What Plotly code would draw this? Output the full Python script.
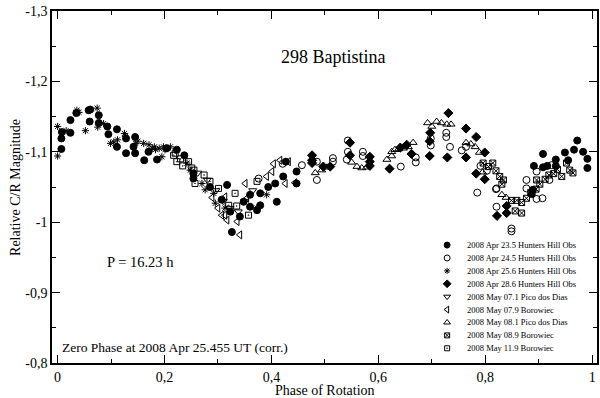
import plotly.graph_objects as go

# phase / relative magnitude per observing night
apr23_phase = [0.008, 0.007, 0.007, 0.024, 0.024, 0.035, 0.058, 0.061, 0.060, 0.077, 0.077,
               0.093, 0.095, 0.111, 0.111, 0.128, 0.128, 0.145, 0.142, 0.145, 0.162, 0.170,
               0.186, 0.204, 0.223, 0.237, 0.254, 0.254, 0.285, 0.307, 0.323, 0.341,
               0.317, 0.348, 0.360, 0.360, 0.373, 0.379, 0.379, 0.394, 0.410, 0.407, 0.326,
               0.427, 0.422, 0.447, 0.447,
               0.891, 0.908, 0.908, 0.916, 0.932, 0.932, 0.949, 0.955, 0.966, 0.972, 0.983,
               0.991, 0.991, 0.889, 0.887]
apr23_mag = [-1.128, -1.119, -1.104, -1.145, -1.127, -1.155, -1.159, -1.160, -1.143, -1.152, -1.141,
             -1.136, -1.125, -1.132, -1.107, -1.119, -1.098, -1.121, -1.107, -1.098, -1.088, -1.100,
             -1.089, -1.105, -1.103, -1.095, -1.069, -1.062, -1.050, -1.032, -1.015, -1.008,
             -1.053, -1.029, -1.022, -1.039, -1.017, -1.041, -1.024, -1.050, -1.029, -1.055, -0.986,
             -1.086, -1.065, -1.072, -1.055,
             -1.080, -1.097, -1.078, -1.080, -1.089, -1.080, -1.099, -1.088, -1.103, -1.116, -1.100,
             -1.090, -1.077, -1.046, -1.040]

apr24_phase = [0.376, 0.421, 0.457, 0.485, 0.485, 0.515, 0.515, 0.543, 0.543, 0.541, 0.571, 0.571,
               0.642, 0.670, 0.670, 0.698, 0.698, 0.727, 0.727, 0.734, 0.756, 0.764, 0.791, 0.803,
               0.785, 0.820, 0.821, 0.821, 0.849, 0.849, 0.877, 0.877, 0.896, 0.896, 0.907,
               0.920, 0.924]
apr24_mag = [-1.062, -1.083, -1.081, -1.086, -1.060, -1.091, -1.086, -1.116, -1.100, -1.089, -1.100, -1.094,
             -1.079, -1.092, -1.085, -1.119, -1.109, -1.127, -1.121, -1.107, -1.102, -1.107, -1.080, -1.073,
             -1.042, -1.047, -1.022, -1.048, -0.991, -0.987, -1.060, -1.048, -1.072, -1.033, -1.034,
             -1.060, -1.081]

apr25_phase = [0.000, 0.000, 0.016, 0.036, 0.040, 0.052, 0.074, 0.075, 0.086, 0.099, 0.105, 0.112,
               0.125, 0.127, 0.146, 0.150, 0.161, 0.171, 0.177, 0.181, 0.183, 0.190, 0.195, 0.198,
               0.201, 0.211, 0.242, 0.248, 0.270, 0.276, 0.292, 0.295, 0.313, 0.373, 0.391]
apr25_mag = [-1.136, -1.094, -1.130, -1.159, -1.156, -1.130, -1.162, -1.135, -1.140, -1.112, -1.114, -1.117,
             -1.126, -1.122, -1.112, -1.115, -1.112, -1.110, -1.105, -1.107, -1.103, -1.105, -1.093, -1.107,
             -1.103, -1.107, -1.084, -1.074, -1.055, -1.046, -1.041, -1.027, -1.020, -1.020, -1.039]

apr28_phase = [0.476, 0.476, 0.476, 0.497, 0.510, 0.547, 0.547, 0.584, 0.584, 0.584, 0.621, 0.641,
               0.653, 0.662, 0.697, 0.696, 0.696, 0.731, 0.729, 0.764, 0.764, 0.783, 0.799, 0.783,
               0.799, 0.822, 0.840, 0.840]
apr28_mag = [-1.095, -1.088, -1.084, -1.079, -1.079, -1.113, -1.095, -1.093, -1.086, -1.080, -1.076, -1.106,
             -1.110, -1.097, -1.127, -1.115, -1.094, -1.155, -1.092, -1.133, -1.092, -1.121, -1.099, -1.069,
             -1.061, -1.009, -1.023, -1.013]

may07a_phase = [0.262, 0.280, 0.296, 0.310, 0.322, 0.338, 0.350, 0.365]
may07a_mag = [-1.070, -1.060, -1.045, -1.030, -1.020, -1.015, -1.030, -1.045]

may07b_phase = [0.289, 0.307, 0.317, 0.341, 0.351, 0.354, 0.391, 0.401, 0.404, 0.416, 0.432, 0.426,
                0.444, 0.300, 0.313, 0.336, 0.313]
may07b_mag = [-1.035, -1.010, -1.003, -0.982, -1.055, -1.034, -1.065, -1.072, -1.083, -1.088, -1.086, -1.055,
              -1.056, -1.020, -1.010, -1.001, -1.036]

may08a_phase = [0.482, 0.494, 0.504, 0.550, 0.560, 0.569, 0.578, 0.616, 0.625, 0.625, 0.631, 0.638,
                0.647, 0.656, 0.665, 0.692, 0.700, 0.709, 0.718, 0.728, 0.736, 0.764, 0.773, 0.781,
                0.789, 0.831, 0.839, 0.795]
may08a_mag = [-1.070, -1.074, -1.078, -1.085, -1.079, -1.077, -1.078, -1.089, -1.094, -1.100, -1.103, -1.104,
              -1.105, -1.107, -1.113, -1.141, -1.136, -1.143, -1.141, -1.139, -1.139, -1.113, -1.111, -1.107,
              -1.099, -1.039, -1.035, -1.071]

may08b_phase = [0.796, 0.806, 0.814, 0.820, 0.827, 0.834, 0.831, 0.849, 0.859, 0.868, 0.856, 0.868,
                0.877, 0.885, 0.895, 0.896, 0.902, 0.912, 0.919, 0.928, 0.935, 0.943, 0.952, 0.958, 0.964]
may08b_mag = [-1.084, -1.079, -1.084, -1.073, -1.065, -1.060, -1.054, -1.031, -1.031, -1.028, -1.016, -1.013,
              -1.034, -1.042, -1.047, -1.060, -1.054, -1.061, -1.067, -1.069, -1.075, -1.065, -1.084, -1.074, -1.070]

may11_phase = [0.217, 0.220, 0.223, 0.234, 0.245, 0.251, 0.255, 0.257, 0.274, 0.285, 0.301, 0.320,
               0.335, 0.332, 0.357, 0.373, 0.230]
may11_mag = [-1.095, -1.098, -1.086, -1.080, -1.086, -1.077, -1.074, -1.055, -1.067, -1.058, -1.048, -1.024,
             -1.023, -1.041, -1.010, -1.058, -1.090]

names = ["2008 Apr 23.5 Hunters Hill Obs", "2008 Apr 24.5 Hunters Hill Obs",
         "2008 Apr 25.6 Hunters Hill Obs", "2008 Apr 28.6 Hunters Hill Obs",
         "2008 May 07.1 Pico dos Dias", "2008 May 07.9 Borowiec",
         "2008 May 08.1 Pico dos Dias", "2008 May 08.9 Borowiec", "2008 May 11.9 Borowiec"]

x_ticks = [0, 0.2, 0.4, 0.6, 0.8, 1.0]
x_ticktext = ["0", "0,2", "0,4", "0,6", "0,8", "1"]
y_ticks = [-1.3, -1.2, -1.1, -1.0, -0.9, -0.8]
y_ticktext = ["-1,3", "-1,2", "-1,1", "-1", "-0,9", "-0,8"]

FONT = "Liberation Serif, Times New Roman, serif"

series = [
    (names[0], apr23_phase, apr23_mag, "circle", 7),
    (names[1], apr24_phase, apr24_mag, "circle-open", 7),
    (names[2], apr25_phase, apr25_mag, "asterisk-open", 6),
    (names[3], apr28_phase, apr28_mag, "diamond", 7),
    (names[4], may07a_phase, may07a_mag, "triangle-down-open", 7),
    (names[5], may07b_phase, may07b_mag, "triangle-left-open", 7),
    (names[6], may08a_phase, may08a_mag, "triangle-up-open", 7),
    (names[7], may08b_phase, may08b_mag, "square-x-open", 6),
    (names[8], may11_phase, may11_mag, "square-open-dot", 6),
]

fig = go.Figure()
for name, xs, ys, sym, size in series:
    fig.add_trace(go.Scatter(
        x=xs, y=ys, mode="markers", name=name, showlegend=False,
        marker=dict(symbol=sym, size=size, color="black",
                    line=dict(color="black", width=1)),
    ))

# hand-made legend (tighter rows than plotly's own legend allows)
row_top, row_gap = 0.335, 12.9 / 352
for i, (name, _, _, sym, size) in enumerate(series):
    yk = row_top - i * row_gap
    fig.add_trace(go.Scatter(
        x=[0.725], y=[yk], xaxis="x2", yaxis="y2", mode="markers", showlegend=False,
        hoverinfo="skip",
        marker=dict(symbol=sym, size=size - 1, color="black", line=dict(color="black", width=1)),
    ))
    fig.add_annotation(text=name, x=0.757, y=yk, xref="paper", yref="paper",
                       xanchor="left", yanchor="middle", showarrow=False,
                       font=dict(size=8.5, family=FONT, color="black"))

axis_common = dict(showline=True, linecolor="black", linewidth=1.5, mirror="ticks",
                   ticks="inside", ticklen=8, tickwidth=1, tickcolor="black",
                   showgrid=False, zeroline=False, automargin=False,
                   tickfont=dict(size=14, family=FONT, color="black"))

fig.update_layout(
    width=600, height=398,
    margin=dict(l=52, r=3, t=11, b=35),
    paper_bgcolor="white", plot_bgcolor="white",
    font=dict(family=FONT, color="black"),
    xaxis=dict(range=[-0.0105, 1.009], tickmode="array", tickvals=x_ticks, ticktext=x_ticktext,
               minor=dict(tickvals=[0.1, 0.3, 0.5, 0.7, 0.9], ticks="inside", ticklen=4,
                          tickcolor="black"),
               **axis_common),
    yaxis=dict(range=[-0.8, -1.3], tickmode="array", tickvals=y_ticks, ticktext=y_ticktext,
               minor=dict(tickvals=[-1.25, -1.15, -1.05, -0.95, -0.85], ticks="inside", ticklen=4,
                          tickcolor="black"),
               **axis_common),
    xaxis2=dict(overlaying="x", range=[0, 1], visible=False, automargin=False),
    yaxis2=dict(overlaying="y", range=[0, 1], visible=False, automargin=False),
)

def note(text, x, y, size, **kw):
    opts = dict(xanchor="center", yanchor="middle")
    opts.update(kw)
    fig.add_annotation(text=text, x=x, y=y, xref="paper", yref="paper", showarrow=False,
                       font=dict(size=size, family=FONT, color="black"), **opts)

note("298 Baptistina", 0.5156, 0.869, 18)
note("P = 16.23 h", 0.1615, 0.287, 14.5)
note("Zero Phase at 2008 Apr 25.455 UT (corr.)", 0.0147, 0.045, 13.5, xanchor="left")
note("Phase of Rotation", 0.5, -0.077, 14)
note("Relative C/R Magnitude", -0.068, 0.5, 14, textangle=-90)

# the page body has a default 8px margin that would push the figure out of the window
fig.write_html("out.html", config={"displayModeBar": False},
               post_script="document.body.style.margin='0';")
